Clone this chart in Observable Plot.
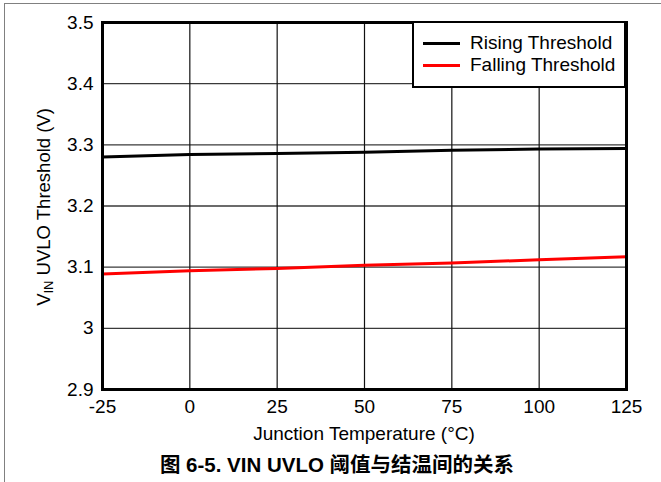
<!DOCTYPE html>
<html>
<head>
<meta charset="utf-8">
<script src="https://cdn.jsdelivr.net/npm/d3@7"></script>
<script src="https://cdn.jsdelivr.net/npm/@observablehq/plot@0.6"></script>
<style>
  html, body { margin: 0; padding: 0; background: #fff; }
  #page {
    position: relative; width: 661px; height: 482px; overflow: hidden;
    font-family: "Liberation Sans", Arial, sans-serif; color: #000;
  }
  #edge {
    position: absolute; left: 4px; top: 3px; right: -10px; bottom: -10px;
    border-top: 1.5px solid #808080; border-left: 1.5px solid #808080;
  }
  #chart { position: absolute; left: 0; top: 0; }
  #legend {
    position: absolute; left: 412px; top: 21px; width: 214px; height: 67px;
    box-sizing: border-box; border: 2.5px solid #000; background: #fff;
    font-size: 19px;
  }
  .item { position: absolute; left: 9px; height: 22px; display: flex; align-items: center; }
  .swatch { width: 37px; height: 0; border-top: 3px solid; margin-right: 10px; }
  #caption {
    position: absolute; left: 0; width: 674px; top: 452px; text-align: center;
    font-family: "Liberation Sans", "Noto Sans CJK SC", Arial, sans-serif;
    font-weight: bold; font-size: 20.5px; line-height: 26px;
  }
</style>
</head>
<body>
<div id="page">
  <div id="edge"></div>
  <div id="chart"></div>
  <div id="legend"></div>
  <div id="caption">图 6-5. VIN UVLO 阈值与结温间的关系</div>
</div>
<script>
// Junction temperature (°C) and UVLO thresholds (V)
const temperature = [-25, 0, 25, 50, 75, 100, 125];
const risingThreshold = [3.280, 3.284, 3.286, 3.288, 3.291, 3.293, 3.294];
const fallingThreshold = [3.089, 3.094, 3.098, 3.103, 3.107, 3.112, 3.117];

const xTicks = [-25, 0, 25, 50, 75, 100, 125];
const yTicks = [2.9, 3, 3.1, 3.2, 3.3, 3.4, 3.5];

const seriesNames = ["Rising Threshold", "Falling Threshold"];
const seriesColors = ["#000000", "#ff0000"];

const rows = temperature.map((t, i) => ({
  t, rising: risingThreshold[i], falling: fallingThreshold[i]
}));

const chart = Plot.plot({
  width: 661,
  height: 445,
  marginLeft: 102,
  marginRight: 35,
  marginTop: 22,
  marginBottom: 56,
  style: {
    fontFamily: "'Liberation Sans', Arial, sans-serif",
    fontSize: "19px",
    background: "transparent",
    color: "#000",
    overflow: "visible"
  },
  x: { domain: [-25, 125] },
  y: { domain: [2.9, 3.5] },
  marks: [
    Plot.ruleY(yTicks.slice(1, -1), { stroke: "#3a3a3a", strokeWidth: 1.3 }),
    Plot.ruleX(xTicks.slice(1, -1), { stroke: "#111", strokeWidth: 1.2 }),
    Plot.line(rows, { x: "t", y: "rising", stroke: seriesColors[0], strokeWidth: 3 }),
    Plot.line(rows, { x: "t", y: "falling", stroke: seriesColors[1], strokeWidth: 3 }),
    Plot.frame({ stroke: "#000", strokeWidth: 3 }),
    Plot.axisX({ ticks: xTicks, tickSize: 0, tickPadding: 10, tickFormat: d => String(d), label: null }),
    Plot.axisY({ ticks: yTicks, tickSize: 0, tickPadding: 9, tickFormat: d => String(d), label: null })
  ]
});
document.getElementById("chart").appendChild(chart);

// Axis titles
const svg = d3.select(chart);
const xs = chart.scale("x");
const xMid = (xs.apply(-25) + xs.apply(125)) / 2;
svg.append("text")
  .attr("x", xMid).attr("y", 433)
  .attr("text-anchor", "middle").attr("dominant-baseline", "central")
  .attr("font-size", 19).attr("fill", "#000")
  .text("Junction Temperature (°C)");

const yLabel = svg.append("text")
  .attr("transform", "translate(43,207) rotate(-90)")
  .attr("text-anchor", "middle").attr("dominant-baseline", "central")
  .attr("font-size", 18.5).attr("fill", "#000");
yLabel.append("tspan").text("V");
yLabel.append("tspan").attr("font-size", 13).attr("dy", 5).text("IN");
yLabel.append("tspan").attr("dy", -5).text(" UVLO Threshold (V)");

// Legend
const legend = document.getElementById("legend");
seriesNames.forEach((name, i) => {
  const item = document.createElement("div");
  item.className = "item";
  item.style.top = (9 + i * 22) + "px";
  const sw = document.createElement("span");
  sw.className = "swatch";
  sw.style.borderTopColor = seriesColors[i];
  const label = document.createElement("span");
  label.textContent = name;
  item.appendChild(sw);
  item.appendChild(label);
  legend.appendChild(item);
});
</script>
</body>
</html>
